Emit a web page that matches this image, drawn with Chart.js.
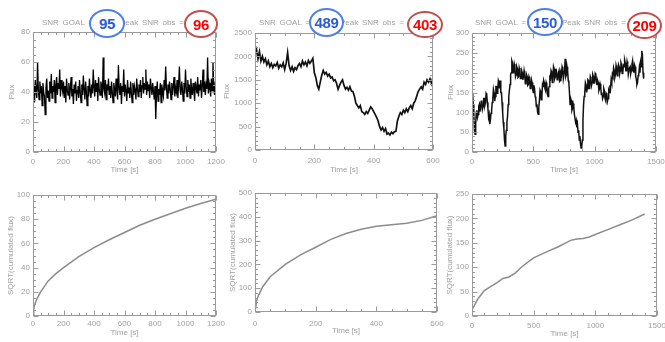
<!DOCTYPE html>
<html>
<head>
<meta charset="utf-8">
<script src="https://cdn.jsdelivr.net/npm/chart.js@4.4.1/dist/chart.umd.min.js"></script>
<style>
  body { margin: 0; background: #fff; width: 665px; height: 342px; position: relative; overflow: hidden;
         font-family: "Liberation Sans", Arial, sans-serif; }
  canvas { position: absolute; }
  .ttl { position: absolute; top: 18px; font-size: 8px; line-height: 10px; color: #a0a0a0;
         white-space: pre; word-spacing: 1.5px; will-change: transform; }
  .oval { position: absolute; box-sizing: border-box; border-radius: 50%; background: #fff;
          border: 2px solid; display: flex; align-items: center; justify-content: center;
          font-weight: bold; font-size: 15px; letter-spacing: -0.3px; }
  .goal { border-color: #4f80e6; color: #2a5bd7; }
  .obs { border-color: #c0504d; color: #ff0000; }
</style>
</head>
<body>
<div class="ttl" style="left:42px">SNR GOAL =</div>
<div class="ttl" style="left:120px">Peak SNR obs =</div>
<div class="ttl" style="left:259px">SNR GOAL =</div>
<div class="ttl" style="left:340px">Peak SNR obs =</div>
<div class="ttl" style="left:475px">SNR GOAL =</div>
<div class="ttl" style="left:562px">Peak SNR obs =</div>

<canvas id="top1"></canvas>
<canvas id="top2"></canvas>
<canvas id="top3"></canvas>
<canvas id="bot1"></canvas>
<canvas id="bot2"></canvas>
<canvas id="bot3"></canvas>

<div class="oval goal" id="goal1" style="left:89px;top:9px;width:36px;height:29px"></div>
<div class="oval obs" id="obs1" style="left:184px;top:10px;width:34px;height:28px"></div>
<div class="oval goal" id="goal2" style="left:309px;top:8px;width:35px;height:29px"></div>
<div class="oval obs" id="obs2" style="left:407px;top:11px;width:36px;height:27px"></div>
<div class="oval goal" id="goal3" style="left:527px;top:8px;width:36px;height:28px"></div>
<div class="oval obs" id="obs3" style="left:627px;top:12px;width:35px;height:27px"></div>

<script>
// SNR values written in the ovals
const snrGoal = [95, 489, 150];
const snrObs = [96, 403, 209];

// light curves, one sample every fluxStep seconds
const fluxStep = [5, 5, 5];
const flux1 = [
  38,45,33,48,41,36,60,42,35,47,39,44,31,46,40,37,25,43,49,36,
  41,34,47,39,52,36,44,40,48,33,45,50,38,46,42,55,37,48,43,40,
  47,36,44,33,49,41,38,46,35,43,50,37,42,32,45,39,47,34,41,44,
  36,48,40,33,45,38,51,42,35,47,40,31,44,37,49,41,36,45,39,55,
  43,37,48,40,46,34,50,41,38,47,44,36,63,42,39,48,35,45,41,49,
  38,44,36,47,40,33,46,42,37,49,41,35,58,43,38,46,32,44,40,55,
  37,45,41,34,48,39,43,36,47,40,33,46,38,44,41,35,49,42,37,45,
  40,48,36,44,50,39,46,42,55,38,47,41,45,36,49,43,38,46,40,35,
  44,22,39,47,34,42,38,46,33,45,40,37,48,41,57,43,36,45,39,47,
  42,35,46,38,44,50,37,43,40,48,36,45,57,41,38,47,42,34,46,39,
  55,43,37,48,40,45,36,49,42,38,46,41,34,47,43,39,50,37,45,41,
  48,36,44,55,40,47,38,45,42,63,39,46,43,37,49,41,60,44,38,47,
  42
];
const flux2 = [
  2050,2150,1950,2100,1900,2000,1880,1950,1820,1900,
  1780,1850,1760,1830,1800,1870,1750,1820,1780,1860,
  1720,1850,2080,1800,1700,1780,1680,1760,1720,1800,
  1850,1780,1900,1820,1880,1800,1910,1850,1900,1960,
  1650,1550,1380,1300,1450,1600,1700,1620,1660,1580,
  1620,1540,1560,1480,1500,1420,1300,1380,1450,1500,
  1380,1300,1340,1280,1350,1260,1250,1150,1000,950,
  900,950,820,800,760,820,780,850,920,880,
  820,760,700,620,500,430,480,400,460,340,
  360,320,380,350,390,400,620,720,800,760,
  850,800,880,820,900,950,880,1000,1050,1150,
  1250,1300,1350,1300,1450,1400,1500,1450,1520,1420,
  1560
];
const flux3 = [
  140,150,120,95,55,45,70,100,105,88,95,115,120,102,110,128,130,108,115,135,
  135,118,125,148,145,125,110,88,95,70,80,98,105,125,135,158,150,128,140,165,
  165,148,155,180,175,160,180,150,150,125,100,75,60,30,15,40,55,75,90,120,
  140,155,170,195,200,230,225,200,205,222,215,190,195,215,210,188,190,212,205,185,
  185,205,200,182,190,205,195,172,175,195,190,168,170,190,185,160,165,182,175,158,
  150,168,160,140,135,115,120,100,95,112,130,155,150,132,140,170,165,180,175,160,
  155,175,170,145,140,160,165,188,185,205,200,175,180,215,210,185,190,210,200,182,
  185,200,205,178,180,200,195,215,210,185,185,205,235,190,195,215,205,180,175,150,
  120,135,130,105,110,122,115,95,95,75,80,62,70,50,55,30,40,20,10,15,
  30,80,120,140,150,175,170,150,160,182,180,160,165,190,185,168,175,195,190,172,
  180,198,195,172,170,180,175,155,160,172,165,145,150,135,140,160,155,135,130,148,
  145,128,135,155,150,168,160,182,175,195,190,212,205,188,195,218,210,192,200,220,
  215,198,205,225,220,198,200,218,215,232,225,205,205,228,220,195,195,212,215,198,
  205,222,230,208,200,220,215,190,185,170,175,192,195,212,200,225,215,255,245,200,
  185
];

// SQRT(cumulated flux) curves
const cumTime1 = [0, 5, 10, 25, 50, 100, 150, 200, 300, 400, 500, 600, 700, 800, 900, 1000, 1100, 1200];
const cumSnr1 = [0, 6, 9, 14, 20, 29, 35, 40, 49, 56.5, 63, 69, 75, 80, 84.5, 89, 93, 96.5];
const cumTime2 = [0, 5, 10, 25, 50, 100, 150, 200, 250, 300, 350, 400, 450, 500, 550, 600];
const cumSnr2 = [0, 45, 65, 105, 148, 200, 240, 272, 305, 330, 348, 360, 367, 373, 385, 405];
const cumTime3 = [0, 3, 50, 100, 150, 200, 250, 300, 350, 400, 450, 500, 600, 700, 800, 850, 900, 950, 1000, 1100, 1200, 1300, 1400];
const cumSnr3 = [0, 14, 36, 52, 60, 68, 77, 80, 88, 100, 110, 119, 131, 142, 155, 158, 159, 162, 167, 177, 187, 197, 209];

// axis ranges / ticks
const xMaxes = [1200, 600, 1500];
const xSteps = [200, 200, 500];
const topYMax = [80, 2500, 300];
const topYStep = [20, 500, 50];
const botYMax = [100, 500, 250];
const botYStep = [20, 100, 50];

snrGoal.forEach((v, i) => { document.getElementById('goal' + (i + 1)).textContent = v; });
snrObs.forEach((v, i) => { document.getElementById('obs' + (i + 1)).textContent = v; });

Chart.defaults.font.family = '"Liberation Sans", Arial, sans-serif';
Chart.defaults.font.size = 8;
Chart.defaults.color = '#a0a0a0';

const AXIS = '#9a9a9a';

// IDL style box with inward major/minor ticks on all four sides
const idlFrame = {
  id: 'idlFrame',
  afterDatasetsDraw(chart, args, opts) {
    const { ctx, chartArea: a, scales: { x, y } } = chart;
    ctx.save();
    ctx.strokeStyle = AXIS;
    ctx.lineWidth = 1;
    const l = Math.round(a.left) + 0.5, r = Math.round(a.right) - 0.5;
    const t = Math.round(a.top) + 0.5, b = Math.round(a.bottom) - 0.5;
    ctx.strokeRect(l, t, r - l, b - t);
    ctx.beginPath();
    const xs = opts.xStep / opts.xMinor;
    for (let i = 0; i * xs <= x.max + 1e-6; i++) {
      const px = Math.round(x.getPixelForValue(i * xs)) + 0.5;
      const len = i % opts.xMinor === 0 ? 5 : 2.5;
      ctx.moveTo(px, b); ctx.lineTo(px, b - len);
      ctx.moveTo(px, t); ctx.lineTo(px, t + len);
    }
    const ys = opts.yStep / opts.yMinor;
    for (let i = 0; i * ys <= y.max + 1e-6; i++) {
      const py = Math.round(y.getPixelForValue(i * ys)) + 0.5;
      const len = i % opts.yMinor === 0 ? 5 : 2.5;
      ctx.moveTo(l, py); ctx.lineTo(l + len, py);
      ctx.moveTo(r, py); ctx.lineTo(r - len, py);
    }
    ctx.stroke();
    ctx.restore();
  }
};

function makePanel(p) {
  const cv = document.getElementById(p.id);
  const w = p.R - p.L + 33 + 14;
  cv.width = w;
  cv.height = p.h;
  cv.style.left = (p.L - 33) + 'px';
  cv.style.top = p.top + 'px';
  const bottomAbs = p.top + p.h;
  new Chart(cv, {
    type: 'line',
    data: {
      datasets: [{
        data: p.points,
        borderColor: p.color,
        borderWidth: p.lw,
        pointRadius: 0,
        tension: 0
      }]
    },
    options: {
      responsive: false,
      animation: false,
      events: [],
      layout: { padding: { top: p.T - p.top, right: 14, left: 0, bottom: 0 } },
      plugins: {
        legend: { display: false },
        tooltip: { enabled: false },
        idlFrame: { xStep: p.xStep, xMinor: p.xMinor, yStep: p.yStep, yMinor: p.yMinor }
      },
      scales: {
        x: {
          type: 'linear', min: 0, max: p.xMax,
          grid: { display: false, drawTicks: false },
          border: { display: false },
          ticks: { stepSize: p.xStep, autoSkip: false, maxRotation: 0,
                   padding: p.lbl - p.B - 4.8, callback: v => String(v) },
          title: { display: true, text: 'Time [s]', padding: { top: 0, bottom: bottomAbs - p.xt - 4.8 } },
          afterFit: s => { s.height = bottomAbs - p.B; }
        },
        y: {
          type: 'linear', min: 0, max: p.yMax,
          grid: { display: false, drawTicks: false },
          border: { display: false },
          ticks: { stepSize: p.yStep, padding: 3, callback: v => String(v) },
          title: { display: true, text: p.yTitle, padding: { top: p.yt - (p.L - 33) - 4.8, bottom: 0 } },
          afterFit: s => { s.width = 33; }
        }
      }
    },
    plugins: [idlFrame]
  });
}

const stepPoints = (vals, step) => vals.map((v, i) => ({ x: i * step, y: v }));
const pairPoints = (ts, vs) => ts.map((t, i) => ({ x: t, y: vs[i] }));

const panels = [
  { id: 'top1', top: 0, h: 178, L: 33, R: 216, T: 32, B: 152, lbl: 161.5, xt: 170, yt: 12,
    xMax: xMaxes[0], xStep: xSteps[0], xMinor: 4, yMax: topYMax[0], yStep: topYStep[0], yMinor: 4,
    yTitle: 'Flux', points: stepPoints(flux1, fluxStep[0]), color: '#000', lw: 1.3 },
  { id: 'top2', top: 0, h: 178, L: 255, R: 433, T: 33, B: 150, lbl: 160.5, xt: 170, yt: 227,
    xMax: xMaxes[1], xStep: xSteps[1], xMinor: 4, yMax: topYMax[1], yStep: topYStep[1], yMinor: 5,
    yTitle: 'Flux', points: stepPoints(flux2, fluxStep[1]), color: '#111', lw: 1.7 },
  { id: 'top3', top: 0, h: 178, L: 472, R: 656, T: 33, B: 152, lbl: 162, xt: 170, yt: 451,
    xMax: xMaxes[2], xStep: xSteps[2], xMinor: 5, yMax: topYMax[2], yStep: topYStep[2], yMinor: 5,
    yTitle: 'Flux', points: stepPoints(flux3, fluxStep[2]), color: '#111', lw: 1.5 },
  { id: 'bot1', top: 172, h: 170, L: 33, R: 216, T: 195, B: 316, lbl: 324, xt: 332.5, yt: 11,
    xMax: xMaxes[0], xStep: xSteps[0], xMinor: 4, yMax: botYMax[0], yStep: botYStep[0], yMinor: 4,
    yTitle: 'SQRT(cumulated flux)', points: pairPoints(cumTime1, cumSnr1), color: '#8c8c8c', lw: 1.5 },
  { id: 'bot2', top: 172, h: 170, L: 255, R: 437, T: 193, B: 312, lbl: 324, xt: 331, yt: 232.5,
    xMax: xMaxes[1], xStep: xSteps[1], xMinor: 4, yMax: botYMax[1], yStep: botYStep[1], yMinor: 5,
    yTitle: 'SQRT(cumulated flux)', points: pairPoints(cumTime2, cumSnr2), color: '#8c8c8c', lw: 1.5 },
  { id: 'bot3', top: 172, h: 170, L: 472, R: 657, T: 194, B: 316, lbl: 325.5, xt: 334, yt: 450,
    xMax: xMaxes[2], xStep: xSteps[2], xMinor: 5, yMax: botYMax[2], yStep: botYStep[2], yMinor: 5,
    yTitle: 'SQRT(cumulated flux)', points: pairPoints(cumTime3, cumSnr3), color: '#8c8c8c', lw: 1.5 }
];

panels.forEach(makePanel);
</script>
</body>
</html>
